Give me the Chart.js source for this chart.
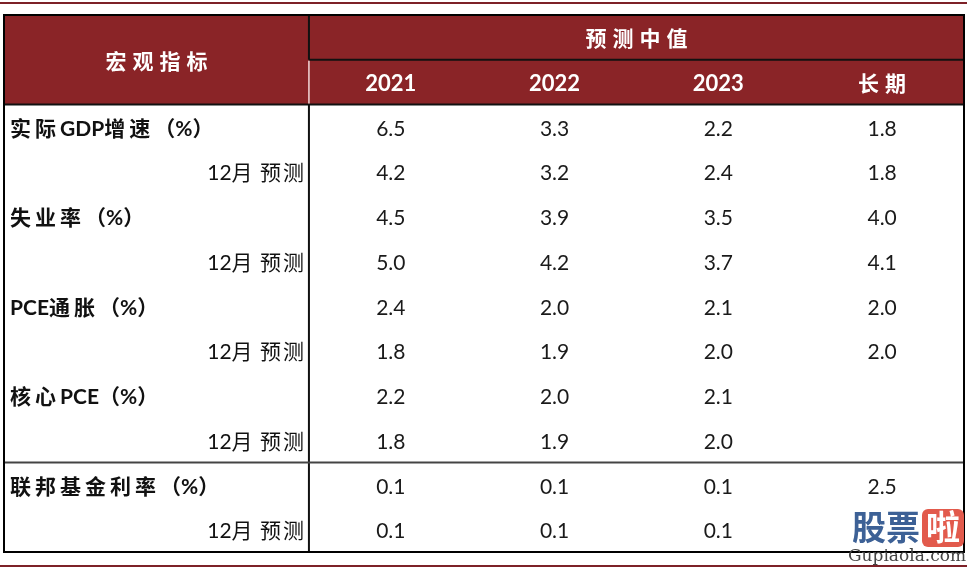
<!DOCTYPE html>
<html>
<head>
<meta charset="utf-8">
<script src="https://cdn.jsdelivr.net/npm/chart.js@4.4.1/dist/chart.umd.min.js"></script>
<style>
  html, body { margin: 0; padding: 0; background: #fff; }
  #wrap { width: 967px; height: 569px; position: relative; }
</style>
</head>
<body>
<div id="wrap"><canvas id="fomc-table"></canvas></div>
<script>
// table content
const headLeft = '宏观指标';
const headGroup = '预测中值';
const columns = ['2021', '2022', '2023', '长期'];
const indicators = ['实际GDP增速（%）', '12月 预测', '失业率（%）', '12月 预测', 'PCE通胀（%）', '12月 预测',
    '核心PCE（%）', '12月 预测', '联邦基金利率（%）', '12月 预测'];
const isSubRow = [false, true, false, true, false, true, false, true, false, true];
const v2021 = [6.5, 4.2, 4.5, 5.0, 2.4, 1.8, 2.2, 1.8, 0.1, 0.1];
const v2022 = [3.3, 3.2, 3.9, 4.2, 2.0, 1.9, 2.0, 1.9, 0.1, 0.1];
const v2023 = [2.2, 2.4, 3.5, 3.7, 2.1, 2.0, 2.1, 2.0, 0.1, 0.1];
const vLong = [1.8, 1.8, 4.0, 4.1, 2.0, 2.0, null, null, 2.5, null];

const RED = '#8a2427';
const FONT = 'Lato, "Noto Sans CJK SC", sans-serif';
const LEFT_W = 1.862;      // width of label column, in column units
const HEAD_ROWS = 2;

function toPoints(values, col) {
    const pts = [];
    values.forEach(function (v, i) {
        if (v !== null) pts.push({ x: col + 0.5, y: HEAD_ROWS + i + 0.5, v: v });
    });
    return pts;
}

// draw text with extra gap after han glyphs only, latin and brackets stay tight
const HAN = /[\u4e00-\u9fff]/;
function spacedText(ctx, str, xLeft, yMid, gap) {
    let cx = xLeft;
    for (const ch of str) {
        ctx.fillText(ch, cx, yMid);
        cx += ctx.measureText(ch).width + (HAN.test(ch) ? gap : 0);
    }
    return cx;
}
function spacedWidth(ctx, str, gap) {
    let w = 0;
    for (const ch of str) w += ctx.measureText(ch).width + (HAN.test(ch) ? gap : 0);
    return w;
}

const tablePlugin = {
    id: 'tablePlugin',
    beforeDatasetsDraw: function (chart) {
        const ctx = chart.ctx;
        const x = chart.scales.x, y = chart.scales.y;
        const L = x.getPixelForValue(-LEFT_W), R = x.getPixelForValue(columns.length);
        const sep = x.getPixelForValue(0);
        const top = y.getPixelForValue(0), mid = y.getPixelForValue(1), hb = y.getPixelForValue(HEAD_ROWS);
        const bottom = y.getPixelForValue(HEAD_ROWS + indicators.length);
        ctx.save();

        // decorative lines above and below
        ctx.fillStyle = '#7d2128';
        ctx.fillRect(0, 2, chart.width, 2);
        ctx.fillRect(0, chart.height - 4, chart.width, 2);

        // header background
        ctx.fillStyle = RED;
        ctx.fillRect(L, top, R - L, hb - top);

        // header text
        ctx.fillStyle = '#fff';
        ctx.textAlign = 'center';
        ctx.textBaseline = 'middle';
        ctx.font = 'bold 21px "Noto Sans CJK SC", sans-serif';
        ctx.letterSpacing = '6px';
        ctx.fillText(headLeft, (L + sep) / 2 + 3, (top + hb) / 2 + 1);
        ctx.fillText(headGroup, (sep + R) / 2 + 3, (top + mid) / 2 + 1);
        columns.forEach(function (c, i) {
            const num = /\d/.test(c);
            ctx.font = 'bold ' + (num ? 22 : 21) + 'px ' + FONT;
            ctx.letterSpacing = num ? '0px' : '6px';
            ctx.fillText(c, x.getPixelForValue(i + 0.5) + (num ? 0 : 3), (mid + hb) / 2 + 2);
        });
        ctx.letterSpacing = '0px';

        // row labels
        ctx.fillStyle = '#111';
        ctx.textAlign = 'left';
        indicators.forEach(function (lab, i) {
            const cy = y.getPixelForValue(HEAD_ROWS + i + 0.5) + 2;
            if (isSubRow[i]) {
                ctx.font = '21px ' + FONT;
                const w = spacedWidth(ctx, lab, 2) - 2;
                spacedText(ctx, lab, sep - 5 - w, cy, 2);
            } else {
                ctx.font = 'bold 21px ' + FONT;
                spacedText(ctx, lab, L + 6, cy, 4);
            }
        });

        // grid lines
        ctx.strokeStyle = '#111';
        ctx.lineWidth = 2;
        ctx.beginPath();
        ctx.moveTo(sep, top); ctx.lineTo(sep, mid);
        ctx.moveTo(sep, mid); ctx.lineTo(R, mid);
        ctx.moveTo(L, hb); ctx.lineTo(R, hb);
        ctx.moveTo(sep, hb); ctx.lineTo(sep, bottom);
        ctx.stroke();
        ctx.strokeStyle = '#f3d9d9';
        ctx.lineWidth = 1.5;
        ctx.beginPath();
        ctx.moveTo(sep, mid + 1); ctx.lineTo(sep, hb - 1);
        ctx.stroke();
        const fed = y.getPixelForValue(HEAD_ROWS + 8);
        ctx.strokeStyle = '#444';
        ctx.lineWidth = 2;
        ctx.beginPath();
        ctx.moveTo(L, fed); ctx.lineTo(R, fed);
        ctx.stroke();
        ctx.strokeStyle = '#000';
        ctx.lineWidth = 2;
        ctx.strokeRect(L, top, R - L, bottom - top);
        ctx.restore();
    },
    afterDatasetsDraw: function (chart) {
        const ctx = chart.ctx;
        ctx.save();
        ctx.fillStyle = '#1a1a1a';
        ctx.font = '21px ' + FONT;
        ctx.textAlign = 'center';
        ctx.textBaseline = 'middle';
        chart.data.datasets.forEach(function (ds, di) {
            chart.getDatasetMeta(di).data.forEach(function (pt, i) {
                ctx.fillText(ds.data[i].v.toFixed(1), pt.x, pt.y + 2);
            });
        });

        // watermark
        ctx.textAlign = 'left';
        ctx.font = 'bold 34px "Noto Sans CJK SC", sans-serif';
        ctx.fillStyle = '#3d6196';
        ctx.fillText('股票', 852, 527);
        ctx.fillStyle = '#e25a4c';
        ctx.beginPath();
        ctx.roundRect(922, 509, 42, 38, 6);
        ctx.fill();
        ctx.fillStyle = '#fff';
        ctx.fillText('啦', 926, 527);
        ctx.fillStyle = '#444';
        ctx.font = '17px "DejaVu Serif", serif';
        ctx.fillText('Gupiaola.com', 848, 557);
        ctx.restore();
    }
};

const datasets = [v2021, v2022, v2023, vLong].map(function (vals, c) {
    return {
        label: columns[c],
        data: toPoints(vals, c),
        pointRadius: 0,
        showLine: false
    };
});

new Chart(document.getElementById('fomc-table'), {
    type: 'scatter',
    data: { datasets: datasets },
    options: {
        responsive: true,
        maintainAspectRatio: false,
        animation: false,
        events: [],
        layout: { padding: { left: 4, right: 3, top: 15, bottom: 17 } },
        plugins: { legend: { display: false }, tooltip: { enabled: false } },
        scales: {
            x: { type: 'linear', min: -LEFT_W, max: columns.length, display: false },
            y: { type: 'linear', min: 0, max: HEAD_ROWS + indicators.length, reverse: true, display: false }
        }
    },
    plugins: [tablePlugin]
});
</script>
</body>
</html>
